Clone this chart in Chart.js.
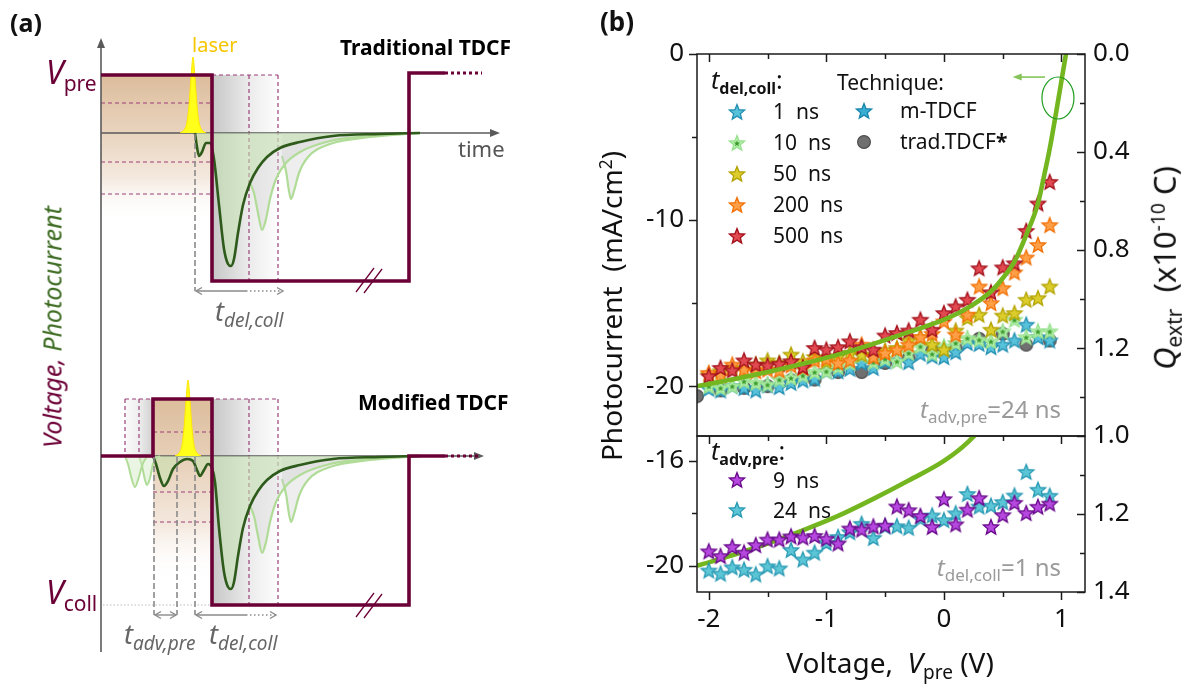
<!DOCTYPE html>
<html><head><meta charset="utf-8">
<script src="https://cdn.jsdelivr.net/npm/chart.js@4.4.1/dist/chart.umd.min.js"></script>
<style>
html,body{margin:0;padding:0;background:#fff;}
#wrap{position:relative;width:1191px;height:684px;overflow:hidden;font-family:"Noto Sans","Open Sans",sans-serif;color:#111;}
canvas{position:absolute;}
.t{position:absolute;white-space:nowrap;line-height:1;}
.sub{font-size:0.68em;vertical-align:-0.32em;}
.sup{font-size:0.62em;vertical-align:0.55em;}
.rot{position:absolute;white-space:nowrap;line-height:1;transform:translate(-50%,-50%) rotate(-90deg);}
.c{transform:translateX(-50%);}
</style></head><body><div id="wrap">
<canvas id="ca" width="540" height="684" style="left:0;top:0;width:540px;height:684px"></canvas>
<canvas id="cb1" width="540" height="450" style="left:630px;top:20px;width:540px;height:450px"></canvas>
<canvas id="cb2" width="540" height="282" style="left:630px;top:402px;width:540px;height:282px"></canvas>

<!-- panel (a) texts -->
<div class="t" style="left:10px;top:10px;font-size:25px;font-weight:700;">(a)</div>
<div class="t" style="left:192px;top:35px;font-size:20px;color:#f7c600;">laser</div>
<div class="t" style="left:340px;top:37px;font-size:21px;font-weight:700;color:#000;">Traditional TDCF</div>
<div class="t" style="left:458px;top:137px;font-size:22px;color:#555;">time</div>
<div class="t" style="left:46px;top:56px;color:#6b0036;font-size:32px;"><i>V</i><span style="font-size:21px;vertical-align:-0.35em;">pre</span></div>
<div class="t" style="left:358px;top:392px;font-size:21px;font-weight:700;color:#000;">Modified TDCF</div>
<div class="t" style="left:46px;top:576px;color:#6b0036;font-size:32px;"><i>V</i><span style="font-size:21px;vertical-align:-0.35em;">coll</span></div>
<div class="rot" style="left:52px;top:327px;font-size:25px;font-style:italic;"><span style="color:#6b0036">Voltage,</span> <span style="color:#3d6b22">Photocurrent</span></div>
<div class="t" style="left:215px;top:297px;font-size:27px;color:#666;font-style:italic;">t<span style="font-size:19px;vertical-align:-0.3em;">del,coll</span></div>
<div class="t" style="left:124px;top:620px;font-size:27px;color:#666;font-style:italic;">t<span style="font-size:19px;vertical-align:-0.3em;">adv,pre</span></div>
<div class="t" style="left:209px;top:620px;font-size:27px;color:#666;font-style:italic;">t<span style="font-size:19px;vertical-align:-0.3em;">del,coll</span></div>

<!-- panel (b) texts -->
<div class="t" style="left:600px;top:8px;font-size:26px;font-weight:700;">(b)</div>
<div class="rot" style="left:611px;top:306px;font-size:28px;">Photocurrent &nbsp;(mA/cm<span class="sup">2</span>)</div>
<div class="rot" style="left:1166px;top:268px;font-size:31px;"><i>Q</i><span class="sub">extr</span> &nbsp;(x10<span class="sup">-10</span> C)</div>
<div class="t c" style="left:890px;top:648px;font-size:28px;">Voltage, &nbsp;<i>V</i><span class="sub">pre</span> (V)</div>

<div class="t" style="left:711px;top:67px;font-size:25px;"><i>t</i><b style="font-size:16px;vertical-align:-0.3em;">del,coll</b>:</div>
<div class="t" style="left:837px;top:72px;font-size:21px;">Technique:</div>
<div class="t" style="left:773px;top:101px;font-size:21px;">1 &nbsp;ns</div>
<div class="t" style="left:773px;top:132px;font-size:21px;">10 &nbsp;ns</div>
<div class="t" style="left:773px;top:163px;font-size:21px;">50 &nbsp;ns</div>
<div class="t" style="left:773px;top:194px;font-size:21px;">200 &nbsp;ns</div>
<div class="t" style="left:773px;top:225px;font-size:21px;">500 &nbsp;ns</div>
<div class="t" style="left:900px;top:100px;font-size:21px;">m-TDCF</div>
<div class="t" style="left:900px;top:131px;font-size:21px;">trad.TDCF<b>*</b></div>
<div class="t" style="right:130px;top:397px;font-size:24px;color:#9a9a9a;"><i>t</i><span style="font-size:17px;vertical-align:-0.3em;">adv,pre</span>=24 ns</div>

<div class="t" style="left:711px;top:438px;font-size:25px;"><i>t</i><b style="font-size:16px;vertical-align:-0.3em;">adv,pre</b>:</div>
<div class="t" style="left:773px;top:470px;font-size:21px;">9 &nbsp;ns</div>
<div class="t" style="left:773px;top:500px;font-size:21px;">24 &nbsp;ns</div>
<div class="t" style="right:130px;top:555px;font-size:24px;color:#9a9a9a;"><i>t</i><span style="font-size:17px;vertical-align:-0.3em;">del,coll</span>=1 ns</div>
</div>
<script>
// ---------------- DATA (panel b) ----------------
const voltages = [-2.0,-1.9,-1.8,-1.7,-1.6,-1.5,-1.4,-1.3,-1.2,-1.1,-1.0,-0.9,-0.8,-0.7,-0.6,-0.5,-0.4,-0.3,-0.2,-0.1,0.0,0.1,0.2,0.3,0.4,0.5,0.6,0.7,0.8,0.9];
const del_500ns = [-19.4,-18.9,-19.05,-18.45,-18.7,-18.75,-18.65,-18.5,-18.85,-17.7,-17.8,-17.65,-17.3,-17.65,-17.8,-16.95,-16.8,-16.65,-16.0,-16.6,-15.6,-15.2,-14.8,-12.9,-14.35,-12.85,-12.6,-10.65,-9.0,-7.7];
const del_200ns = [-19.2,-19.35,-18.7,-19.0,-19.1,-19.0,-19.05,-18.75,-18.9,-18.45,-18.35,-18.6,-18.45,-17.5,-18.25,-18.0,-17.8,-17.5,-17.05,-16.85,-16.1,-16.9,-15.7,-14.0,-15.0,-14.1,-13.15,-12.25,-11.5,-10.3];
const del_50ns = [-19.3,-19.1,-18.9,-19.0,-18.7,-18.45,-18.6,-18.1,-18.5,-18.25,-18.5,-18.2,-18.0,-18.1,-18.15,-17.85,-17.7,-17.25,-17.05,-17.5,-17.8,-16.65,-15.9,-15.7,-16.6,-15.75,-15.6,-14.8,-14.7,-14.0];
const del_10ns = [-20.0,-20.1,-20.0,-19.7,-19.8,-19.9,-19.6,-19.5,-19.35,-19.15,-19.1,-18.85,-18.6,-18.15,-18.55,-18.35,-18.5,-18.0,-17.6,-18.05,-17.6,-17.4,-17.1,-17.2,-17.3,-16.7,-16.0,-17.05,-16.7,-16.7];
const del_1ns = [-20.15,-20.25,-20.0,-20.1,-20.25,-19.95,-20.05,-19.8,-19.65,-19.55,-19.1,-19.1,-18.95,-18.6,-18.9,-18.5,-18.45,-18.55,-18.05,-18.2,-18.25,-17.95,-17.4,-17.45,-17.65,-17.5,-17.25,-16.3,-17.05,-17.25];
const trad_V = [-2.1,-1.9,-1.7,-1.5,-1.3,-1.1,-0.9,-0.7,-0.5,-0.3,-0.1,0.1,0.3,0.5,0.7,0.9];
const trad_TDCF = [-20.6,-20.25,-20.1,-20.0,-19.65,-19.6,-19.15,-19.15,-18.6,-18.3,-17.85,-17.7,-17.15,-16.85,-17.5,-17.25];
const adv_9ns = [-19.45,-19.63,-19.28,-19.5,-19.21,-19.0,-19.0,-18.88,-18.92,-18.86,-18.97,-19.15,-18.58,-18.62,-18.5,-18.47,-17.74,-17.88,-18.1,-18.52,-17.46,-18.42,-17.86,-17.42,-18.52,-18.07,-17.6,-17.99,-17.75,-17.63];
const adv_24ns = [-20.18,-20.3,-20.06,-20.15,-20.33,-20.02,-20.1,-19.4,-19.76,-19.5,-19.13,-18.9,-18.72,-18.4,-18.94,-18.5,-18.49,-18.55,-18.2,-18.08,-18.26,-18.0,-17.26,-17.74,-17.71,-17.57,-17.32,-16.42,-17.1,-17.33];
const jv_V = [-2.1,-1.8,-1.5,-1.2,-0.9,-0.6,-0.3,0.0,0.2,0.4,0.5,0.6,0.7,0.8,0.85,0.9,0.95,1.0,1.05,1.1];
const jv_I = [-20.0,-19.6,-19.15,-18.65,-18.1,-17.45,-16.75,-16.0,-15.3,-14.3,-13.5,-12.5,-10.9,-9.0,-7.4,-5.7,-3.7,-1.6,0.5,2.6];

const xMajor = [-2,-1,0,1], xMinor = [-1.5,-0.5,0.5];
const topYMajor = [0,-10,-20], topYMinor = [-5,-15];
const topQMajor = [0,0.4,0.8,1.2], topQMinor = [0.2,0.6,1.0,1.4];
const botYMajor = [-16,-20], botYMinor = [-18];
const botQMajor = [1.0,1.2,1.4], botQMinor = [1.1,1.3];

// ---------------- schematic geometry (panel a) ----------------
const voltTradX = [101,212,212,409,409,445], voltTradY = [75,75,281,281,73,73];
const voltModX = [101,153,153,212,212,409,409,445], voltModY = [456,456,399,399,605,605,456,456];
const axisBases = [133,456];
const curveTrad = [[195,0],[197,14],[199,23],[202,19],[206,10],[210,10],[214,26],[219,72],[224,116],[228,131],[231,133],[234,126],[238,100],[243,72],[250,50],[258,35],[267,24],[280,15],[300,9],[333,3],[380,1],[420,0]];
const curveMod = [[153,0],[156,8],[160,22],[164,30],[168,25],[173,13],[180,6],[187,3],[193,5],[197,14],[200,20],[204,14],[208,8],[212,12],[215,26],[219,72],[224,116],[228,131],[231,133],[234,126],[238,100],[243,72],[250,50],[258,35],[267,24],[280,15],[300,9],[333,3],[380,1],[420,0]];
const copy1 = [[250,50],[254,60],[258,80],[262,97],[266,86],[270,66],[276,46],[285,31],[300,19],[330,8],[370,3],[420,0]];
const copy2 = [[282,23],[286,38],[289,58],[291,66],[294,58],[299,40],[308,24],[330,11],[370,4],[420,0]];
const leftA = [[125,0],[128,8],[132,24],[135,31],[138,24],[142,10],[146,2],[150,0]];
const leftB = [[139,0],[142,10],[145,24],[147,29],[150,22],[153,8],[157,2],[160,0]];
const laserShape = [[-13,0],[-9,3],[-6,11],[-4,28],[-2,55],[0,76],[2,55],[4,28],[6,11],[9,3],[13,0]];
const laserCenters = [193,188];

const pts = (xs, ys) => xs.map((v,i)=>({x:v,y:ys[i]}));
const down = (shape, base) => shape.map(p=>({x:p[0], y:base+p[1]}));
const MAROON = '#6b0036';

const schemPlugin = {
  id:'schem',
  beforeDatasetsDraw(chart){
    const {ctx, scales:{x,y}} = chart;
    const X=v=>x.getPixelForValue(v), Y=v=>y.getPixelForValue(v);
    ctx.save();
    const vgrad=(x0,y0,x1,y1,stops)=>{const g=ctx.createLinearGradient(0,Y(y0),0,Y(y1));stops.forEach(s=>g.addColorStop(s[0],s[1]));ctx.fillStyle=g;ctx.fillRect(X(x0),Y(y0),X(x1)-X(x0),Y(y1)-Y(y0));};
    const hgrad=(x0,y0,x1,y1,stops)=>{const g=ctx.createLinearGradient(X(x0),0,X(x1),0);stops.forEach(s=>g.addColorStop(s[0],s[1]));ctx.fillStyle=g;ctx.fillRect(X(x0),Y(y0),X(x1)-X(x0),Y(y1)-Y(y0));};
    const brown=[[0,'#dcbd9c'],[0.4,'#e9d4bf'],[0.7,'#f4e9df'],[1,'rgba(255,255,255,0)']];
    vgrad(101,75,212,222,brown);
    vgrad(153,399,212,580,brown);
    const gray=[[0,'#c6c6c6'],[0.55,'#ebebeb'],[1,'#fdfdfd']];
    hgrad(212,75,278,281,gray);
    hgrad(212,399,278,605,gray);
    hgrad(125,399,153,456,[[0,'#fafafa'],[0.5,'#eeeeee'],[1,'#cfcfcf']]);
    ctx.strokeStyle='#9c3f78'; ctx.lineWidth=1.2; ctx.setLineDash([4,3]);
    const seg=(a,b,c,d)=>{ctx.beginPath();ctx.moveTo(X(a),Y(b));ctx.lineTo(X(c),Y(d));ctx.stroke();};
    [103,162,194].forEach(v=>seg(101,v,212,v));
    seg(212,75,278,75); seg(249,75,249,281); seg(278,75,278,281);
    [432,492,522].forEach(v=>seg(153,v,212,v));
    seg(125,399,278,399); seg(125,399,125,456); seg(139,399,139,456);
    seg(249,399,249,605); seg(278,399,278,605);
    ctx.setLineDash([]);
    ctx.strokeStyle='#5a5a5a'; ctx.fillStyle='#5a5a5a'; ctx.lineWidth=1.6;
    seg(101,652,101,44); seg(101,133,494,133); seg(101,456,480,456);
    const tri=(px,py,dir)=>{ctx.beginPath();if(dir==='up'){ctx.moveTo(X(px),Y(py));ctx.lineTo(X(px)-4,Y(py)+10);ctx.lineTo(X(px)+4,Y(py)+10);}else{ctx.moveTo(X(px),Y(py));ctx.lineTo(X(px)-10,Y(py)-4);ctx.lineTo(X(px)-10,Y(py)+4);}ctx.closePath();ctx.fill();};
    tri(101,38,'up'); tri(500,133,'right'); tri(484,456,'right');
    ctx.strokeStyle='#bdbdbd'; ctx.lineWidth=1; ctx.setLineDash([1.5,2]);
    seg(103,605,212,605);
    ctx.setLineDash([]);
    ctx.restore();
  },
  afterDatasetsDraw(chart){
    const {ctx, scales:{x,y}} = chart;
    const X=v=>x.getPixelForValue(v), Y=v=>y.getPixelForValue(v);
    ctx.save();
    const seg=(a,b,c,d)=>{ctx.beginPath();ctx.moveTo(X(a),Y(b));ctx.lineTo(X(c),Y(d));ctx.stroke();};
    ctx.strokeStyle=MAROON; ctx.lineWidth=3.2; ctx.setLineDash([3,3]);
    seg(445,73,482,73); seg(445,456,478,456);
    ctx.setLineDash([]);
    ctx.lineWidth=1.3;
    seg(356,292,374,268); seg(364,293,382,269);
    seg(356,617,374,593); seg(364,618,382,594);
    ctx.strokeStyle='#8a8a8a'; ctx.lineWidth=1.6; ctx.setLineDash([6,3]);
    seg(195,134,195,291);
    seg(154,457,154,615); seg(177,457,177,615); seg(195,457,195,615);
    ctx.setLineDash([]);
    const chev=(px,py,dir)=>{ctx.beginPath();ctx.moveTo(X(px)+dir*6,Y(py)-3.5);ctx.lineTo(X(px),Y(py));ctx.lineTo(X(px)+dir*6,Y(py)+3.5);ctx.stroke();};
    ctx.lineWidth=1.4; ctx.strokeStyle='#8a8a8a';
    seg(196,291,246,291); ctx.setLineDash([1.5,2.5]); seg(246,291,282,291); ctx.setLineDash([]);
    chev(196,291,1); chev(283,291,-1);
    seg(155,615,176,615); chev(155,615,1); chev(176,615,-1);
    seg(196,615,246,615); ctx.setLineDash([1.5,2.5]); seg(246,615,275,615); ctx.setLineDash([]);
    chev(196,615,1); chev(276,615,-1);
    ctx.restore();
  }
};

const lineDS = (data, color, width, extra) => Object.assign({data, borderColor:color, borderWidth:width, pointRadius:0, tension:0, fill:false, clip:false}, extra||{});
const smooth = {cubicInterpolationMode:'monotone'};
const dsA = [
  lineDS(pts(voltTradX,voltTradY), MAROON, 3.6),
  lineDS(pts(voltModX,voltModY), MAROON, 3.6),
  lineDS(down(curveTrad,axisBases[0]), '#2e5a1b', 2.6, Object.assign({fill:{value:axisBases[0]}, backgroundColor:'rgba(196,228,176,0.55)'},smooth)),
  lineDS(down(curveMod,axisBases[1]), '#2e5a1b', 2.6, Object.assign({fill:{value:axisBases[1]}, backgroundColor:'rgba(196,228,176,0.55)'},smooth)),
  lineDS(down(copy1,axisBases[0]), '#b0dc98', 2.2, Object.assign({fill:{value:axisBases[0]}, backgroundColor:'rgba(205,205,205,0.35)'},smooth)),
  lineDS(down(copy2,axisBases[0]), '#b0dc98', 2.2, Object.assign({fill:{value:axisBases[0]}, backgroundColor:'rgba(205,205,205,0.35)'},smooth)),
  lineDS(down(copy1,axisBases[1]), '#b0dc98', 2.2, Object.assign({fill:{value:axisBases[1]}, backgroundColor:'rgba(205,205,205,0.35)'},smooth)),
  lineDS(down(copy2,axisBases[1]), '#b0dc98', 2.2, Object.assign({fill:{value:axisBases[1]}, backgroundColor:'rgba(205,205,205,0.35)'},smooth)),
  lineDS(down(leftA,axisBases[1]), '#b0dc98', 2.0, Object.assign({fill:{value:axisBases[1]}, backgroundColor:'rgba(210,232,196,0.45)'},smooth)),
  lineDS(down(leftB,axisBases[1]), '#b0dc98', 2.0, Object.assign({fill:{value:axisBases[1]}, backgroundColor:'rgba(210,232,196,0.45)'},smooth)),
  lineDS(laserShape.map(p=>({x:laserCenters[0]+p[0], y:axisBases[0]-p[1]})), '#ffe500', 1, Object.assign({fill:{value:axisBases[0]}, backgroundColor:'#ffff1a'},smooth)),
  lineDS(laserShape.map(p=>({x:laserCenters[1]+p[0], y:axisBases[1]-p[1]})), '#ffe500', 1, Object.assign({fill:{value:axisBases[1]}, backgroundColor:'#ffff1a'},smooth))
];
new Chart(document.getElementById('ca'), {
  type:'line',
  data:{datasets:dsA},
  options:{responsive:false, animation:false, events:[], layout:{padding:0},
    plugins:{legend:{display:false}, tooltip:{enabled:false}},
    scales:{x:{type:'linear',min:0,max:540,display:false}, y:{type:'linear',min:0,max:684,reverse:true,display:false}}},
  plugins:[schemPlugin]
});

// ---------------- markers ----------------
function makeMarker(kind, fill, stroke, inner){
  const s=20, c=document.createElement('canvas'); c.width=c.height=s;
  const g=c.getContext('2d'); const cx=s/2, cy=s/2+0.6;
  if(kind==='circle'){g.beginPath();g.arc(s/2,s/2,6.4,0,2*Math.PI);g.fillStyle=fill;g.fill();g.lineWidth=1.2;g.strokeStyle=stroke;g.stroke();return c;}
  const star=(R,r)=>{g.beginPath();for(let i=0;i<10;i++){const a=-Math.PI/2+i*Math.PI/5;const rr=i%2?r:R;g.lineTo(cx+rr*Math.cos(a),cy+rr*Math.sin(a));}g.closePath();};
  star(8.0,3.5); g.fillStyle=fill; g.fill(); g.lineJoin='miter'; g.lineWidth=1.3; g.strokeStyle=stroke; g.stroke();
  if(inner){star(3.4,1.45); g.fillStyle=inner; g.fill();}
  return c;
}
const M = {
  red: makeMarker('star','#e24a52','#a3101b'),
  orange: makeMarker('star','#ffa048','#f27208'),
  yellow: makeMarker('star','#dccd2c','#b3a405'),
  green: makeMarker('star','#b6f0ad','#98e28f','#3c9c2c'),
  cyan: makeMarker('star','#58c2da','#2590b3'),
  mtdcf: makeMarker('star','#3aaed2','#1b86ae'),
  gray: makeMarker('circle','#707070','#4e4e4e'),
  purple: makeMarker('star','#b648e0','#6a0a8c'),
  cyan24: makeMarker('star','#5cc6d6','#2a9ab4')
};
const wrap=document.getElementById('wrap');
function placeMarker(img,cx,cy){const c=document.createElement('canvas');c.width=c.height=20;c.getContext('2d').drawImage(img,0,0);c.style.left=(cx-10)+'px';c.style.top=(cy-10)+'px';wrap.appendChild(c);}
placeMarker(M.cyan,737,112); placeMarker(M.green,737,143); placeMarker(M.yellow,737,174);
placeMarker(M.orange,737,205); placeMarker(M.red,737,236);
placeMarker(M.mtdcf,864,111); placeMarker(M.gray,864,142);
placeMarker(M.purple,737,480); placeMarker(M.cyan24,737,510);

// ---------------- panel (b) charts ----------------
const FONT={family:'"Noto Sans","Open Sans",sans-serif', size:26};
function framePlugin(specs){
  return {id:'frame', afterDatasetsDraw(chart){
    const {ctx, chartArea:a}=chart; ctx.save(); ctx.strokeStyle='#1b1b1b'; ctx.lineWidth=1.5;
    for(const s of specs){const sc=chart.scales[s.scale];
      for(const v of s.values){const p=Math.round(sc.getPixelForValue(v))+0.5; ctx.beginPath();
        if(s.edge==='top'){ctx.moveTo(p,a.top);ctx.lineTo(p,a.top+s.len);}
        else if(s.edge==='bottom'){ctx.moveTo(p,a.bottom);ctx.lineTo(p,a.bottom+s.len);}
        else if(s.edge==='left'){ctx.moveTo(a.left,p);ctx.lineTo(a.left-s.len,p);}
        else {ctx.moveTo(a.right,p);ctx.lineTo(a.right-s.len,p);}
        ctx.stroke();}}
    ctx.strokeRect(a.left,a.top,a.width,a.height); ctx.restore();}};
}
const annotPlugin = {id:'annot', afterDatasetsDraw(chart){
  const {ctx, scales:{x,y}}=chart; ctx.save();
  ctx.strokeStyle='#1f9e1f'; ctx.lineWidth=1.2;
  ctx.beginPath(); ctx.ellipse(x.getPixelForValue(0.97), y.getPixelForValue(-2.65), 16, 21, 0, 0, 2*Math.PI); ctx.stroke();
  const ay=y.getPixelForValue(-1.39), ax0=x.getPixelForValue(0.86), ax1=x.getPixelForValue(0.585);
  ctx.strokeStyle='#86c45a'; ctx.fillStyle='#86c45a'; ctx.lineWidth=1.6;
  ctx.beginPath(); ctx.moveTo(ax0,ay); ctx.lineTo(ax1+6,ay); ctx.stroke();
  ctx.beginPath(); ctx.moveTo(ax1,ay); ctx.lineTo(ax1+9,ay-3.5); ctx.lineTo(ax1+9,ay+3.5); ctx.closePath(); ctx.fill();
  ctx.restore();}};
const scat=(data,img)=>({data, showLine:false, pointStyle:img, pointRadius:8, clip:0});
const curve=()=>({data:pts(jv_V,jv_I), borderColor:'#74b61f', borderWidth:4.6, pointRadius:0, cubicInterpolationMode:'monotone', fill:false, clip:0});
const yAxis=(min,max,major)=>({type:'linear',position:'left',min,max,
  afterFit(s){s.width=67;}, afterBuildTicks(s){s.ticks=major.map(v=>({value:v}));},
  ticks:{font:FONT,color:'#111',padding:13,callback:v=>String(v)}, grid:{display:false,drawTicks:false}, border:{display:false}});
const qAxis=(min,max,major)=>({type:'linear',position:'right',min,max,reverse:true,
  afterFit(s){s.width=85;}, afterBuildTicks(s){s.ticks=major.map(v=>({value:v}));},
  ticks:{font:FONT,color:'#111',padding:8,callback:v=>v.toFixed(1)}, grid:{display:false,drawTicks:false}, border:{display:false}});
const common={responsive:false, animation:false, events:[], plugins:{legend:{display:false},tooltip:{enabled:false}}};

new Chart(document.getElementById('cb1'), {
  type:'line',
  data:{datasets:[curve(),
    scat(pts(voltages,del_500ns),M.red), scat(pts(voltages,del_200ns),M.orange), scat(pts(voltages,del_50ns),M.yellow),
    scat(pts(voltages,del_10ns),M.green), scat(pts(voltages,del_1ns),M.cyan), scat(pts(trad_V,trad_TDCF),M.gray)]},
  options:Object.assign({}, common, {layout:{padding:{top:34,bottom:34,left:0,right:0}},
    scales:{x:{type:'linear',min:-2.1,max:1.2,display:false}, y:yAxis(-23,0,topYMajor), yR:qAxis(0,1.5585,topQMajor)}}),
  plugins:[framePlugin([
    {scale:'x',values:xMajor,edge:'top',len:8},{scale:'x',values:xMinor,edge:'top',len:5},
    {scale:'y',values:topYMajor,edge:'left',len:8},{scale:'y',values:topYMinor,edge:'left',len:5},
    {scale:'yR',values:topQMajor,edge:'right',len:8},{scale:'yR',values:topQMinor,edge:'right',len:5}]), annotPlugin]
});

new Chart(document.getElementById('cb2'), {
  type:'line',
  data:{datasets:[scat(pts(voltages,adv_9ns),M.purple), scat(pts(voltages,adv_24ns),M.cyan24), curve()]},
  options:Object.assign({}, common, {layout:{padding:{top:34,bottom:0,left:0,right:0}},
    scales:{x:{type:'linear',min:-2.1,max:1.2,position:'bottom',afterFit(s){s.height=92;},
        afterBuildTicks(s){s.ticks=xMajor.map(v=>({value:v}));},
        ticks:{font:FONT,color:'#111',padding:12,maxRotation:0,callback:v=>String(v)}, grid:{display:false,drawTicks:false}, border:{display:false}},
      y:yAxis(-21,-15.05,botYMajor), yR:qAxis(1.0,1.4,botQMajor)}}),
  plugins:[framePlugin([
    {scale:'x',values:xMajor,edge:'top',len:8},{scale:'x',values:xMinor,edge:'top',len:5},
    {scale:'x',values:xMajor,edge:'bottom',len:8},{scale:'x',values:xMinor,edge:'bottom',len:5},
    {scale:'y',values:botYMajor,edge:'left',len:8},{scale:'y',values:botYMinor,edge:'left',len:5},
    {scale:'yR',values:botQMajor,edge:'right',len:8},{scale:'yR',values:botQMinor,edge:'right',len:5}])]
});
</script>
</body></html>
